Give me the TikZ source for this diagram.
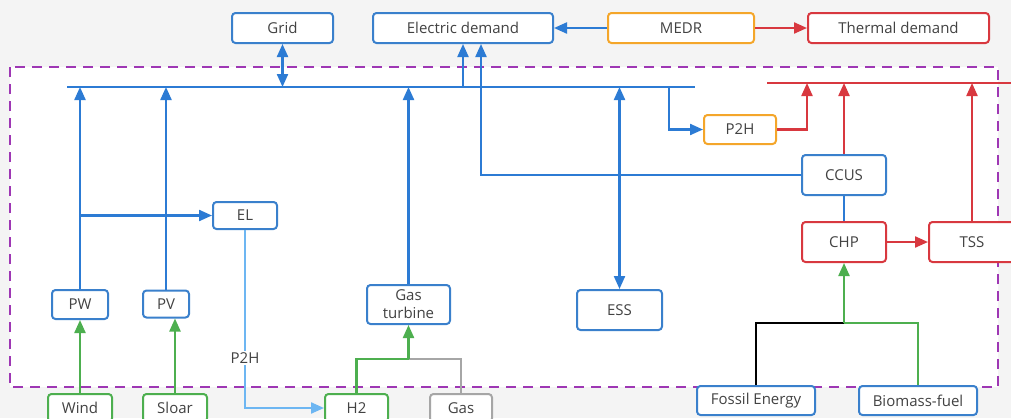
\documentclass[tikz,border=0pt]{standalone}
\usepackage{fontspec}
\setmainfont{Open Sans}
\usetikzlibrary{arrows.meta}
\definecolor{cblue}{HTML}{2C7BD4}
\definecolor{cbox}{HTML}{3A80CC}
\definecolor{clblue}{HTML}{6DB6F2}
\definecolor{cred}{HTML}{D8383F}
\definecolor{corange}{HTML}{F4A62A}
\definecolor{cgreen}{HTML}{4DAF4F}
\definecolor{cgray}{HTML}{A6A6A6}
\definecolor{cpurple}{HTML}{9E37B4}
\definecolor{ctext}{HTML}{424242}
\definecolor{cbg}{HTML}{F4F4F4}
\tikzset{
  box/.style={draw, rounded corners=3.5pt, line width=2pt, fill=white,
    text=ctext, font=\fontsize{15}{17}\selectfont, inner sep=0pt, align=center},
  bbox/.style={box, draw=cbox},
  rbox/.style={box, draw=cred},
  obox/.style={box, draw=corange},
  gbox/.style={box, draw=cgreen},
  ybox/.style={box, draw=cgray},
  tip/.style={-{Triangle[length=13pt,width=11pt]}},
  dtip/.style={{Triangle[length=13pt,width=11pt]}-{Triangle[length=13pt,width=11pt]}},
  bline/.style={draw=cblue, line width=2.2pt},
  rline/.style={draw=cred, line width=2.2pt},
  gline/.style={draw=cgreen, line width=2.2pt},
  barrow/.style={bline, tip},
  rarrow/.style={rline, tip},
  garrow/.style={gline, tip},
}
\begin{document}
\begin{tikzpicture}[x=1pt,y=-1pt]
\fill[cbg] (0,0) rectangle (1011,418);
\useasboundingbox (0,0) rectangle (1011,418);

% system boundary
\fill[white] (10,67) rectangle (998,387);
\draw[cpurple, line width=2pt, dash pattern=on 10pt off 7pt] (10,67) rectangle (998,387);

% external nodes
\node[bbox, minimum width=101, minimum height=30] (grid) at (282.5,28) {Grid};
\node[bbox, minimum width=180, minimum height=30] (ed) at (463,28) {Electric demand};
\node[obox, minimum width=146, minimum height=30] (medr) at (681,28) {MEDR};
\node[rbox, minimum width=181, minimum height=30] (td) at (898.5,28) {Thermal demand};

% internal nodes
\node[obox, minimum width=72, minimum height=29] (p2h) at (740,129.5) {P2H};
\node[bbox, minimum width=84, minimum height=40] (ccus) at (844,175) {CCUS};
\node[rbox, minimum width=84, minimum height=40] (chp) at (844,242) {CHP};
\node[rbox, minimum width=86, minimum height=40] (tss) at (972,242) {TSS};
\node[bbox, minimum width=64, minimum height=27] (el) at (245,215.5) {EL};
\node[bbox, minimum width=56, minimum height=29] (pw) at (80,304.5) {PW};
\node[bbox, minimum width=46, minimum height=27] (pv) at (166,304) {PV};
\node[bbox, minimum width=83, minimum height=39, font=\fontsize{15}{18}\selectfont] (gt) at (408.5,304.5) {Gas\\turbine};
\node[bbox, minimum width=85, minimum height=40] (ess) at (619.5,310) {ESS};

% sources
\node[gbox, minimum width=64, minimum height=28] (wind) at (80,408) {Wind};
\node[gbox, minimum width=64, minimum height=28] (sloar) at (175,408) {Sloar};
\node[gbox, minimum width=63, minimum height=28] (h2) at (356.5,408) {H2};
\node[ybox, minimum width=62, minimum height=28] (gas) at (461,408) {Gas};
\node[bbox, minimum width=118, minimum height=29] (fossil) at (756,400.5) {Fossil Energy};
\node[bbox, minimum width=118, minimum height=29] (bio) at (918,400.5) {Biomass-fuel};

% buses and junctions
\coordinate (busL) at (67,87);
\coordinate (busR) at (695,87);
\coordinate (rbusL) at (767,83);
\coordinate (rbusR) at (1011,83);
\coordinate (tap) at (669,87);
\coordinate (hj) at (408.5,359);
\coordinate (fj) at (844,323);
\draw[bline] (busL) -- (busR);
\draw[rline] (rbusL) -- (rbusR);

% electric links
\draw[bline, dtip] (grid.south) -- (grid.south |- busL);
\draw[barrow] (ed.south |- busL) -- (ed.south);
\draw[barrow] (ccus.west) -| ([xshift=18pt]ed.south);
\draw[barrow] (medr.west) -- (ed.east);
\draw[barrow] (pw.north) -- (pw.north |- busL);
\draw[barrow] (pv.north) -- (pv.north |- busL);
\draw[barrow] (pw.north |- el.west) -- (el.west);
\draw[barrow] (gt.north) -- (gt.north |- busL);
\draw[bline, dtip] (ess.north |- busL) -- (ess.north);
\draw[barrow] (tap) |- (p2h.west);
\draw[bline] (ccus.south) -- (chp.north);
\draw[draw=clblue, line width=2.2pt, tip] (el.south) |- (h2.west)
  node[pos=0.36, fill=white, text=ctext, inner sep=1.5pt, font=\fontsize{15}{17}\selectfont] {P2H};

% thermal links
\draw[rarrow] (medr.east) -- (td.west);
\draw[rarrow] (p2h.east) -| (807,83);
\draw[rarrow] (ccus.north) -- (ccus.north |- rbusL);
\draw[rarrow] (tss.north) -- (tss.north |- rbusL);
\draw[rarrow] (chp.east) -- (tss.west);

% fuel links
\draw[garrow] (wind.north) -- (pw.south);
\draw[garrow] (sloar.north) -- (sloar.north |- pv.south);
\draw[gline] (h2.north) |- (hj);
\draw[draw=cgray, line width=2.2pt] (gas.north) |- (hj);
\draw[garrow] (hj) -- (gt.south);
\draw[black, line width=2.2pt] (fossil.north) |- (fj);
\draw[gline] (bio.north) |- (fj);
\draw[garrow] (fj) -- (chp.south);
\end{tikzpicture}
\end{document}
